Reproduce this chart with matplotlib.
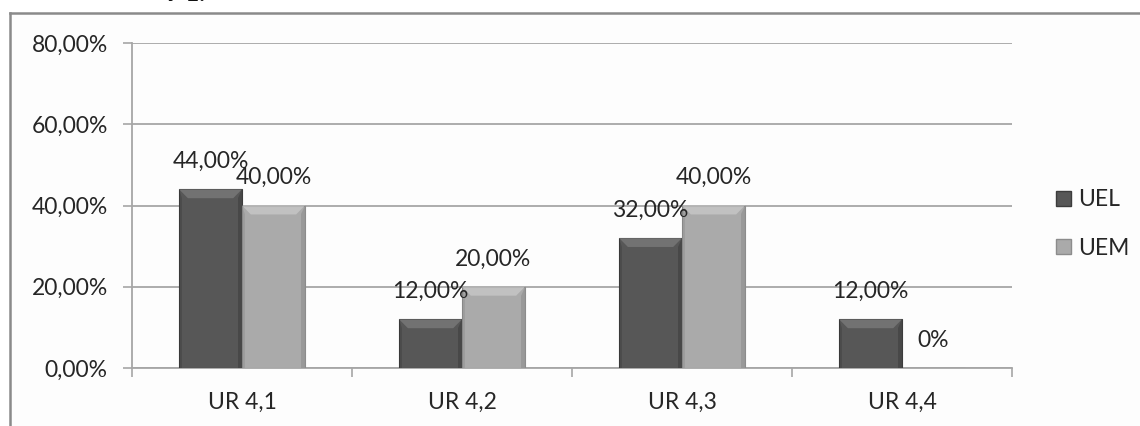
import matplotlib
matplotlib.use("Agg")
import matplotlib.pyplot as plt
from matplotlib.patches import Polygon, Patch, Rectangle
from matplotlib.lines import Line2D
import numpy as np

plt.rcParams['font.family'] = ['Lato', 'DejaVu Sans']

categories = ["UR 4,1", "UR 4,2", "UR 4,3", "UR 4,4"]
series_names = ["UEL", "UEM"]
uel = [0.44, 0.12, 0.32, 0.12]
uem = [0.40, 0.20, 0.40, 0.00]
value_labels_uel = ["44,00%", "12,00%", "32,00%", "12,00%"]
value_labels_uem = ["40,00%", "20,00%", "40,00%", "0%"]
y_ticks = [0.0, 0.2, 0.4, 0.6, 0.8]
y_tick_labels = ["0,00%", "20,00%", "40,00%", "60,00%", "80,00%"]

dark = "#575757"
light = "#aaaaaa"
grid_col = "#a6a6a6"
txt_col = "#262626"
FS = 16.5

W, H = 1140, 426
fig = plt.figure(figsize=(W / 100, H / 100), dpi=100)
fig.patch.set_facecolor("white")

# chart frame (left and top edges visible)
fig.add_artist(Line2D([10 / W, 10 / W], [0, 1 - 13 / H], color="#8a8a8a", lw=1.8))
fig.add_artist(Line2D([10 / W, 1], [1 - 13 / H, 1 - 13 / H], color="#8a8a8a", lw=1.8))
fig.patches.append(Rectangle((11 / W, 0), 1, 1 - 14 / H,
                             transform=fig.transFigure,
                             facecolor="#fdfdfd", edgecolor="none", zorder=-5))

# caption text running above the frame
fig.text(166 / W, 1 - 5 / H, "9 1.", fontsize=17, fontweight="bold",
         va="bottom", ha="left", color="#111111")

ax = fig.add_axes([132 / W, 1 - 368 / H, 880 / W, 325 / H])
ax.set_facecolor("none")

x = np.arange(len(categories))
bw = 0.286
bars_uel = ax.bar(x - bw / 2, uel, bw, color=dark, edgecolor="#3c3c3c", lw=0.8, zorder=3)
bars_uem = ax.bar(x + bw / 2, uem, bw, color=light, edgecolor="#8c8c8c", lw=0.8, zorder=3)


def bevel(bar, top_col, side_col):
    bx, by = bar.get_x(), bar.get_y()
    w, h = bar.get_width(), bar.get_height()
    if h <= 0:
        return
    dx = w * 0.14
    dy = min(0.022, h * 0.3)
    top = Polygon([(bx, by + h), (bx + w, by + h), (bx + w - dx, by + h - dy),
                   (bx + dx, by + h - dy)], closed=True, facecolor=top_col,
                  edgecolor="none", zorder=4, alpha=0.55)
    right = Polygon([(bx + w, by + h), (bx + w, by), (bx + w - dx * 0.5, by),
                     (bx + w - dx * 0.5, by + h - dy)], closed=True,
                    facecolor=side_col, edgecolor="none", zorder=4, alpha=0.35)
    left = Polygon([(bx, by + h), (bx, by), (bx + dx * 0.35, by),
                    (bx + dx * 0.35, by + h - dy)], closed=True,
                   facecolor=side_col, edgecolor="none", zorder=4, alpha=0.25)
    for p in (top, right, left):
        ax.add_patch(p)


for b in bars_uel:
    bevel(b, "#8a8a8a", "#2e2e2e")
for b in bars_uem:
    bevel(b, "#d4d4d4", "#7a7a7a")

for bars, labels in ((bars_uel, value_labels_uel), (bars_uem, value_labels_uem)):
    for b, lab in zip(bars, labels):
        ax.annotate(lab, (b.get_x() + b.get_width() / 2, b.get_height()),
                    xytext=(0, 20), textcoords="offset points",
                    ha="center", va="center", fontsize=FS, color=txt_col, zorder=6)

ax.set_xlim(-0.5, len(categories) - 0.5)
ax.set_ylim(0, 0.8)
ax.set_yticks(y_ticks)
ax.set_yticklabels(y_tick_labels)
ax.yaxis.grid(True, color=grid_col, lw=1.3, zorder=0)
ax.set_axisbelow(True)

ax.set_xticks(x)
ax.set_xticklabels(categories)
ax.set_xticks(np.arange(len(categories) + 1) - 0.5, minor=True)
ax.tick_params(axis="x", which="major", length=0, pad=17, labelsize=FS, labelcolor=txt_col)
ax.tick_params(axis="x", which="minor", length=6.5, width=1.2, color=grid_col, direction="out")
ax.tick_params(axis="y", length=6.5, width=1.2, color=grid_col, pad=11,
               labelsize=FS, labelcolor=txt_col)

for s in ("top", "right"):
    ax.spines[s].set_visible(False)
ax.spines["left"].set_color(grid_col)
ax.spines["left"].set_linewidth(1.3)
ax.spines["bottom"].set_color(grid_col)
ax.spines["bottom"].set_linewidth(1.3)

handles = [Patch(facecolor=dark, edgecolor="#3c3c3c"),
           Patch(facecolor=light, edgecolor="#8c8c8c")]
fig.legend(handles, series_names, loc="center left",
           bbox_to_anchor=(1040 / W, 1 - 224 / H), frameon=False,
           fontsize=FS, handlelength=0.65, handleheight=0.65, handletextpad=0.3,
           labelspacing=1.18, labelcolor=txt_col, borderpad=0.2)

fig.savefig("out.png", dpi=100, facecolor="white")
